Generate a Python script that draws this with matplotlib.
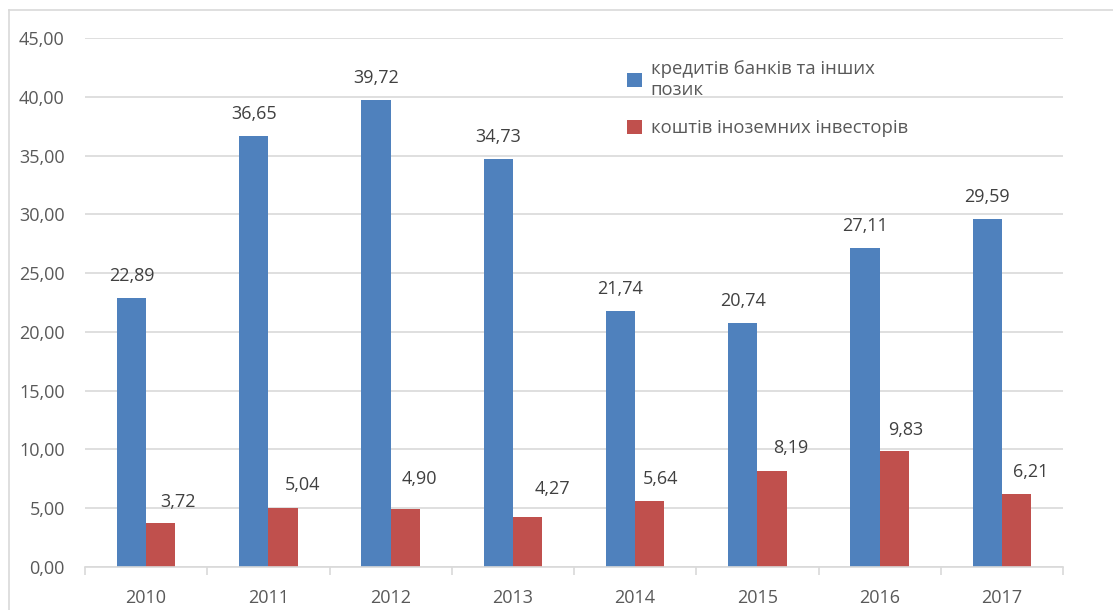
import matplotlib
matplotlib.use('Agg')
import numpy as np
import matplotlib.pyplot as plt
from matplotlib.lines import Line2D

years = ['2010', '2011', '2012', '2013', '2014', '2015', '2016', '2017']
bank_loans = [22.89, 36.65, 39.72, 34.73, 21.74, 20.74, 27.11, 29.59]
foreign_inv = [3.72, 5.04, 4.90, 4.27, 5.64, 8.19, 9.83, 6.21]
series_names = ['кредитів банків та інших\nпозик', 'коштів іноземних інвесторів']
y_ticks = [0, 5, 10, 15, 20, 25, 30, 35, 40, 45]

# label placement (pixels from bar top centre), as in the original chart
red_dx = [17, 20, 14, 25, 11, 19, 11, 14]
red_dy = [21, 23, 30, 28, 22, 23, 21, 22]

plt.rcParams['font.family'] = ['Open Sans', 'DejaVu Sans']
text_col = '#595959'
grid_col = '#d9d9d9'

fig = plt.figure(figsize=(11.13, 6.10), dpi=100)
ax = fig.add_axes([85 / 1113, 1 - 567 / 610, (1063 - 85) / 1113, (567 - 38) / 610])

x = np.arange(len(years))
w = 0.24
b1 = ax.bar(x - w / 2, bank_loans, w, color='#4F81BD', label=series_names[0])
b2 = ax.bar(x + w / 2, foreign_inv, w, color='#C0504D', label=series_names[1])


def fmt(v):
    return f'{v:.2f}'.replace('.', ',')


for r, v in zip(b1, bank_loans):
    ax.annotate(fmt(v), (r.get_x() + r.get_width() / 2, v), xytext=(0, 22),
                textcoords='offset pixels', ha='center', va='center',
                fontsize=13, color='#404040')
for r, v, dx, dy in zip(b2, foreign_inv, red_dx, red_dy):
    ax.annotate(fmt(v), (r.get_x() + r.get_width() / 2, v), xytext=(dx, dy),
                textcoords='offset pixels', ha='center', va='center',
                fontsize=13, color='#404040')

ax.set_xlim(-0.5, len(years) - 0.5)
ax.set_ylim(0, 45)
ax.set_yticks(y_ticks)
ax.set_yticklabels([fmt(t) for t in y_ticks])
ax.set_xticks(x)
ax.set_xticklabels(years)
ax.set_xticks(np.arange(-0.5, len(years)), minor=True)
ax.tick_params(axis='x', which='major', length=0, pad=16, labelsize=13, labelcolor=text_col)
ax.tick_params(axis='x', which='minor', length=6, color=grid_col, width=1.2)
ax.tick_params(axis='y', length=0, pad=14.5, labelsize=13, labelcolor=text_col)

ax.yaxis.grid(True, color=grid_col, linewidth=1.2)
ax.set_axisbelow(True)
for s in ['top', 'right', 'left']:
    ax.spines[s].set_visible(False)
ax.spines['bottom'].set_color(grid_col)
ax.spines['bottom'].set_linewidth(1.2)

ax.legend(loc='upper left', bbox_to_anchor=(0.537, 0.99), frameon=False,
          fontsize=13.3, handlelength=0.8, handleheight=0.8, handletextpad=0.5,
          labelspacing=1.1, labelcolor=text_col)

# outer chart frame (top and left edges)
fig.add_artist(Line2D([9 / 1113, 9 / 1113], [0, 1 - 10 / 610], color=grid_col, lw=1.2))
fig.add_artist(Line2D([9 / 1113, 1], [1 - 10 / 610, 1 - 10 / 610], color=grid_col, lw=1.2))

fig.savefig('out.png', dpi=100)
